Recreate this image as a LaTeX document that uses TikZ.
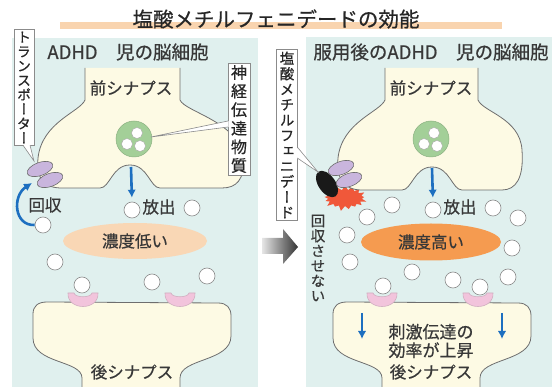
\documentclass[tikz,border=0pt]{standalone}
\usepackage{fontspec}
\usepackage{tikz}
\usetikzlibrary{arrows.meta,shapes.geometric,shapes.symbols,calc}

\newfontfamily\jp[FakeBold=0.6]{Noto Sans CJK JP}
\newfontfamily\jpv[RawFeature=+vert,FakeBold=0.6]{Noto Sans CJK JP}

\definecolor{panelbg}{HTML}{E0F0EE}
\definecolor{cellfill}{HTML}{FDFAE4}
\definecolor{cellline}{HTML}{6E6E6E}
\definecolor{vesgreen}{HTML}{A3CF98}
\definecolor{tplilac}{HTML}{C9B5DD}
\definecolor{recpink}{HTML}{F2C4DC}
\definecolor{lowpeach}{HTML}{F9D7B5}
\definecolor{highorange}{HTML}{F59B50}
\definecolor{burstred}{HTML}{F0583A}
\definecolor{flowblue}{HTML}{1D6FC0}
\definecolor{titlebar}{HTML}{F9D4AF}
\definecolor{labelgray}{HTML}{383838}

\newcommand{\lbl}[1]{\jp\fontsize{#1}{#1}\selectfont}
\newcommand{\tate}[2]{\jpv\fontsize{#1}{#2}\selectfont}

\tikzset{receptor/.pic={
  \filldraw[fill=recpink,draw=recpink!70!gray,line width=0.6pt]
    (-15,-6) .. controls (-16,12) and (16,12) .. (15,-6) -- (9,-6)
    .. controls (8,-1) and (-8,-1) .. (-9,-6) -- cycle;
}}

\begin{document}
\begin{tikzpicture}[x=1pt,y=-1pt,
  cell/.style={fill=cellfill,draw=cellline,line width=0.8pt},
  mol/.style={circle,draw=cellline!80,fill=white,line width=0.6pt,minimum size=16pt,inner sep=0pt},
  ves/.style={circle,fill=vesgreen,draw=vesgreen!85!black,line width=0.5pt,minimum size=36pt,inner sep=0pt},
  vesmol/.style={circle,fill=white,draw=cellline!60,line width=0.4pt,minimum size=11pt,inner sep=0pt},
  tp/.style={ellipse,fill=tplilac,draw=cellline,line width=0.6pt,minimum width=27pt,minimum height=13pt,inner sep=0pt,rotate=20},
  callout/.style={draw=cellline!80,fill=white,line width=0.6pt,align=center,inner xsep=3pt,inner ysep=2pt,text=black!85},
  callline/.style={draw=cellline!80,line width=0.6pt},
  flow/.style={draw=flowblue,line width=2.6pt,-{Latex[length=8pt,width=8.5pt]}},
  label/.style={font=\lbl{16.5},text=labelgray},
]
\useasboundingbox (0,0) rectangle (552,387);

% panels and title
\fill[panelbg] (12,38) rectangle (258,387);
\fill[panelbg] (306,37) rectangle (552,387);
\fill[titlebar] (60,22) rectangle (502,29);
\node[font=\lbl{20.5},text=black!85] (title) at (276,19) {塩酸メチルフェニデードの効能};
\node[font=\lbl{18.5},text=labelgray] (headl) at (128,52) {ADHD　児の脳細胞};
\node[font=\lbl{18.5},text=labelgray] (headr) at (431,52) {服用後のADHD　児の脳細胞};

% big arrow between the panels
\shade[left color=black!10,right color=black!80] (262,238) -- (283,238) -- (283,229)
  -- (298,247) -- (283,264) -- (283,254) -- (262,254) -- cycle;

% burst sits behind the right presynapse
\node[starburst,fill=burstred,minimum width=46pt,minimum height=28pt,starburst point height=6pt] (burst) at (345,198) {};

% presynapses (open at the top)
\filldraw[cell] (85,68) -- (85,100) .. controls (80,112) and (42,122) .. (38,158)
  .. controls (36,180) and (45,188) .. (62,188) -- (100,188)
  .. controls (110,188) and (112,165) .. (130,165) .. controls (148,165) and (150,188) .. (160,188)
  -- (222,188) .. controls (236,188) and (245,180) .. (243,158)
  .. controls (240,122) and (185,112) .. (180,100) -- (180,68);
\filldraw[cell] (385,68) -- (385,100) .. controls (380,112) and (342,122) .. (338,158)
  .. controls (336,180) and (345,190) .. (362,190) -- (402,190)
  .. controls (412,190) and (414,167) .. (432,167) .. controls (450,167) and (452,190) .. (462,190)
  -- (502,190) .. controls (516,190) and (524,178) .. (522,150)
  .. controls (520,118) and (483,112) .. (478,100) -- (478,68);
\node[label] (prel) at (131,88) {前シナプス};
\node[label] (prer) at (431,88) {前シナプス};

% vesicles
\node[ves] (lves) at (134,139) {};
\node[vesmol] (lv1) at (137,133) {};
\node[vesmol] (lv2) at (127,144) {};
\node[vesmol] (lv3) at (140,146) {};
\node[ves] (rves) at (431,139) {};
\node[vesmol] (rv1) at (434,133) {};
\node[vesmol] (rv2) at (424,144) {};
\node[vesmol] (rv3) at (437,146) {};

% transporters, blocked on the right
\node[tp] (ltp1) at (40,169) {};
\node[tp] (ltp2) at (50,180) {};
\node[ellipse,fill=black!90,minimum width=30pt,minimum height=17pt,rotate=-55] (drug) at (327,184) {};
\node[tp] (rtp1) at (341,168) {};
\node[tp] (rtp2) at (349,180) {};

% concentration in the cleft
\node[ellipse,fill=lowpeach,minimum width=144pt,minimum height=36pt,label] (low) at (135,241) {濃度低い};
\node[ellipse,fill=highorange,minimum width=140pt,minimum height=37pt,label] (high) at (431,242) {濃度高い};

% postsynapses (open at the bottom)
\filldraw[cell] (82,387) -- (82,378) .. controls (82,360) and (33,364) .. (33,338) -- (33,314)
  .. controls (33,306) and (38,302) .. (47,302) -- (218,303) .. controls (227,303) and (231,308) .. (231,316)
  -- (231,336) .. controls (231,362) and (180,358) .. (180,378) -- (180,387);
\begin{scope}[xshift=300pt]
\filldraw[cell] (82,387) -- (82,378) .. controls (82,360) and (33,364) .. (33,338) -- (33,314)
  .. controls (33,306) and (38,302) .. (47,302) -- (218,303) .. controls (227,303) and (231,308) .. (231,316)
  -- (231,336) .. controls (231,362) and (180,358) .. (180,378) -- (180,387);
\end{scope}
\pic (lr1) at (83,299) {receptor};
\pic (lr2) at (180,299) {receptor};
\pic (rr1) at (382,299) {receptor};
\pic (rr2) at (478,299) {receptor};

% transmitter molecules
\foreach \x/\y [count=\i] in {43/225,132/210,192/208,55/262,82/285,152/282,207/276}
  \node[mol] (lm\i) at (\x,\y) {};
\foreach \x/\y [count=\i] in {392/205,433/210,367/217,493/208,518/218,347/235,512/248,
    350/262,412/272,453/280,508/277,383/286,480/287}
  \node[mol] (rm\i) at (\x,\y) {};

% release and reuptake
\coordinate (lnotch) at (131,167);
\coordinate (rnotch) at (432,168);
\draw[flow,shorten >=4pt] (lnotch) -- (lm2.north);
\draw[flow,shorten >=4pt] (rnotch) -- (rm2.north);
\coordinate (rectip) at (32,183);
\draw[flow] (lm1.west) .. controls (14,226) and (12,196) .. (rectip);
\node[label] (recl) at (45,205) {回収};
\node[label] (rell) at (159,207) {放出};
\node[label] (relr) at (460,207) {放出};
\node[font=\tate{14.5}{15},text=labelgray,align=center] (norec) at (318,258) {回\\収\\さ\\せ\\な\\い};

% signal inside the right postsynapse
\coordinate (pa1) at (362,313);
\coordinate (pa2) at (502,313);
\draw[flow,line width=2.4pt] (pa1) -- ++(0,26);
\draw[flow,line width=2.4pt] (pa2) -- ++(0,26);
\node[font=\jp\fontsize{17}{18.5}\selectfont,text=labelgray,align=center] (effect) at (431,341) {刺激伝達の\\効率が上昇};
\node[label] (postl) at (132,372) {後シナプス};
\node[label] (postr) at (431,372) {後シナプス};

% callouts
\node[callout,font=\tate{14}{14.4}] (tpbox) at (24,87.5) {ト\\ラ\\ン\\ス\\ポ\\ー\\タ\\ー};
\coordinate (tptip) at (34,161);
\fill[white] ($(tpbox.south)+(-1,-1)$) -- (tptip) -- ($(tpbox.south)+(6,-1)$) -- cycle;
\draw[callline] ($(tpbox.south)+(-1,-0.3)$) -- (tptip) -- ($(tpbox.south)+(6,-0.3)$);

\node[callout,font=\tate{16}{18.6}] (ntbox) at (239,119) {神\\経\\伝\\達\\物\\質};
\coordinate (nttip) at (151,137);
\fill[white] ($(ntbox.west)+(1,2)$) -- (nttip) -- ($(ntbox.west)+(1,8)$) -- cycle;
\draw[callline] ($(ntbox.west)+(0.3,2)$) -- (nttip) -- ($(ntbox.west)+(0.3,8)$);

\node[callout,font=\tate{14.5}{15.4}] (mpbox) at (287,135) {塩\\酸\\メ\\チ\\ル\\フ\\ェ\\ニ\\デ\\ー\\ド};
\coordinate (mptip) at (318,172);
\fill[white] ($(mpbox.east)+(-1,12)$) -- (mptip) -- ($(mpbox.east)+(-1,23)$) -- cycle;
\draw[callline] ($(mpbox.east)+(-0.3,12)$) -- (mptip) -- ($(mpbox.east)+(-0.3,23)$);
\end{tikzpicture}
\end{document}
